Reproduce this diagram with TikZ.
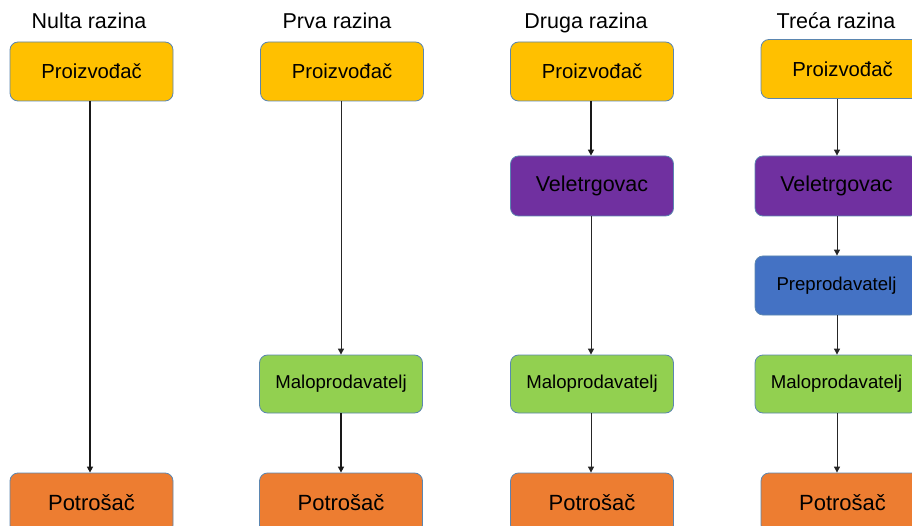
\documentclass[tikz,border=0pt]{standalone}
\usepackage{fontspec}
\setmainfont{Liberation Sans}
\usetikzlibrary{arrows.meta}
\definecolor{cyellow}{HTML}{FFC000}
\definecolor{cpurple}{HTML}{7030A0}
\definecolor{cblue}{HTML}{4472C4}
\definecolor{cgreen}{HTML}{92D050}
\definecolor{corange}{HTML}{ED7D31}
\definecolor{cedge}{HTML}{5B86B0}
\tikzset{
  boxbase/.style={draw=cedge, line width=0.8pt, rounded corners=8pt, minimum width=163pt, minimum height=59pt, inner sep=0pt, text=black},
  prod/.style={boxbase, fill=cyellow, font=\fontsize{20.3}{22}\selectfont},
  vele/.style={boxbase, fill=cpurple, minimum height=60pt, font=\fontsize{21.5}{23}\selectfont},
  prep/.style={boxbase, fill=cblue, font=\fontsize{18.6}{20}\selectfont},
  malo/.style={boxbase, fill=cgreen, minimum height=58pt, font=\fontsize{18.6}{20}\selectfont},
  potr/.style={boxbase, fill=corange, minimum height=60pt, font=\fontsize{22}{24}\selectfont},
  title/.style={font=\fontsize{21.5}{23}\selectfont, inner sep=0pt, anchor=base},
  thinarr/.style={draw=black!85, line width=1pt, -{Triangle[width=6pt,length=6pt]}},
  thickarr/.style={draw=black!90, line width=1.8pt, -{Triangle[width=6pt,length=6pt]}},
}
\begin{document}
\begin{tikzpicture}[x=1pt,y=-1pt]
\useasboundingbox (0,0) rectangle (912,526);
\clip (0,0) rectangle (912,526);
% titles
\node[title] (t1) at (89,28.5) {Nulta razina};
\node[title] (t2) at (337,28.5) {Prva razina};
\node[title] (t3) at (586,28.5) {Druga razina};
\node[title] (t4) at (836,28.5) {Treća razina};
% column 1
\node[prod] (p1) at (91.5,71.5) {Proizvođač};
\node[potr] (o1) at (91.5,503) {Potrošač};
% column 2
\node[prod] (p2) at (342,71.5) {Proizvođač};
\node[malo] (m2) at (341,384) {Maloprodavatelj};
\node[potr] (o2) at (341,503) {Potrošač};
% column 3
\node[prod] (p3) at (592,71.5) {Proizvođač};
\node[vele] (v3) at (592,186) {Veletrgovac};
\node[malo] (m3) at (592,384) {Maloprodavatelj};
\node[potr] (o3) at (592,503) {Potrošač};
% column 4
\node[prod] (p4) at (842.5,69) {Proizvođač};
\node[vele] (v4) at (836.5,186) {Veletrgovac};
\node[prep] (r4) at (836.5,285.5) {Preprodavatelj};
\node[malo] (m4) at (836.5,384) {Maloprodavatelj};
\node[potr] (o4) at (842.5,503) {Potrošač};
% arrows
\draw[thickarr] (p1.south -| 90,0) -- (o1.north -| 90,0);
\draw[thinarr] (p2.south -| 341,0) -- (m2.north);
\draw[thickarr] (m2.south) -- (o2.north);
\draw[thickarr] (p3.south -| 591,0) -- (v3.north -| 591,0);
\draw[thinarr] (v3.south -| 591,0) -- (m3.north -| 591,0);
\draw[thinarr] (m3.south -| 591,0) -- (o3.north -| 591,0);
\draw[thinarr] (p4.south -| 837,0) -- (v4.north -| 837,0);
\draw[thinarr] (v4.south -| 837,0) -- (r4.north -| 837,0);
\draw[thinarr] (r4.south -| 837,0) -- (m4.north -| 837,0);
\draw[thinarr] (m4.south -| 837,0) -- (o4.north -| 837,0);
\end{tikzpicture}
\end{document}
